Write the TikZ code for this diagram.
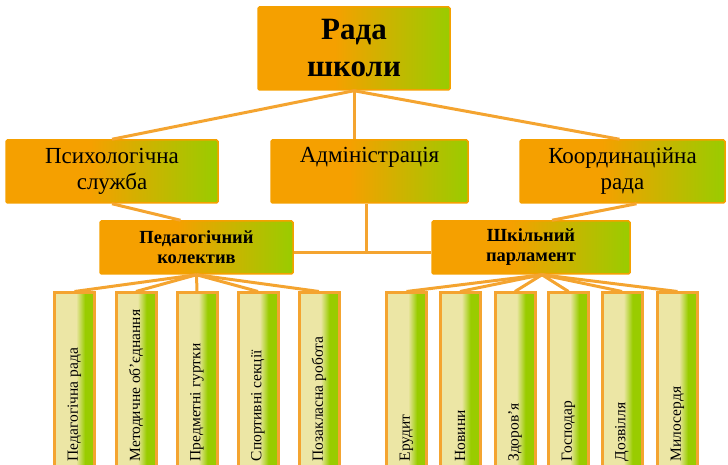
\documentclass[tikz,border=0pt]{standalone}
\usepackage{fontspec}
\setmainfont{Liberation Serif}
\usepackage{xcolor}

\definecolor{boxorange}{RGB}{245,160,0}
\definecolor{boxgreen}{RGB}{153,204,0}
\definecolor{lineorange}{RGB}{244,164,48}
\definecolor{barcream}{RGB}{236,230,165}

\pgfdeclarehorizontalshading{boxshade}{100bp}{color(0bp)=(boxorange); color(45bp)=(boxorange); color(75bp)=(boxgreen); color(100bp)=(boxgreen)}
\pgfdeclarehorizontalshading{barshade}{100bp}{color(0bp)=(barcream); color(52bp)=(barcream); color(63bp)=(boxgreen); color(100bp)=(boxgreen)}

\begin{document}
\begin{tikzpicture}[x=1pt, y=1pt,
  box/.style={draw=boxorange, line width=1.5pt, rounded corners=1.5pt, shading=boxshade, rectangle, align=center, inner sep=0pt, text=black},
  bar/.style={draw=lineorange, line width=3pt, shading=barshade, rectangle, minimum width=40pt, minimum height=180pt, inner sep=0pt},
  bartext/.style={rotate=90, anchor=west, inner sep=0pt, text=black, font=\fontsize{15.5}{18}\selectfont},
  link/.style={draw=lineorange, line width=3pt}]

\useasboundingbox (0,0) rectangle (728,465);
\clip (0,0) rectangle (728,465);

% Top box
\node[box, minimum width=192pt, minimum height=83pt, font=\bfseries\fontsize{31}{37}\selectfont] (rada) at (354,416.5) {Рада\\школи};

% Second row
\node[box, minimum width=212pt, minimum height=63pt, font=\fontsize{23}{26}\selectfont] (psych) at (112,293.5) {Психологічна\\служба};
\node[box, minimum width=197pt, minimum height=63pt, font=\fontsize{23}{26}\selectfont] (admin) at (369.5,293.5) {Адміністрація\\\strut};
\node[box, minimum width=205pt, minimum height=63pt, font=\fontsize{23}{26}\selectfont] (coord) at (622.5,293.5) {Координаційна\\рада};

% Third row
\node[box, minimum width=193pt, minimum height=53pt, font=\bfseries\fontsize{18.5}{20}\selectfont] (ped) at (196.5,217.5) {Педагогічний\\колектив};
\node[box, minimum width=198pt, minimum height=53pt, font=\bfseries\fontsize{18.5}{20}\selectfont] (parl) at (531,217.5) {Шкільний\\парламент};

% Bars under the teachers
\node[bar] (ped1) at (74.5,82) {};
\node[bar] (ped2) at (136,82) {};
\node[bar] (ped3) at (197,82) {};
\node[bar] (ped4) at (258,82) {};
\node[bar] (ped5) at (319,82) {};

% Bars under the parliament
\node[bar] (parl1) at (406.5,82) {};
\node[bar] (parl2) at (460,82) {};
\node[bar] (parl3) at (515,82) {};
\node[bar] (parl4) at (568.5,82) {};
\node[bar] (parl5) at (622,82) {};
\node[bar] (parl6) at (677.5,82) {};

% Vertical labels
\node[bartext] at ([yshift=13pt]ped1.south) {Педагогічна рада};
\node[bartext] at ([yshift=13pt]ped2.south) {Методичне об’єднання};
\node[bartext] at ([yshift=13pt]ped3.south) {Предметні гуртки};
\node[bartext] at ([yshift=13pt]ped4.south) {Спортивні секції};
\node[bartext] at ([yshift=13pt]ped5.south) {Позакласна робота};
\node[bartext] at ([yshift=13pt]parl1.south) {Ерудит};
\node[bartext] at ([yshift=13pt]parl2.south) {Новини};
\node[bartext] at ([yshift=13pt]parl3.south) {Здоров’я};
\node[bartext] at ([yshift=13pt]parl4.south) {Господар};
\node[bartext] at ([yshift=13pt]parl5.south) {Дозвілля};
\node[bartext] at ([yshift=13pt]parl6.south) {Милосердя};

% Lines from the top box
\draw[link] (rada.south) -- (psych.north);
\draw[link] (rada.south) -- (rada.south |- admin.north);
\draw[link] (rada.south) -- ([xshift=-3pt]coord.north);

% Administration joins both collectives
\coordinate (join) at (admin.south |- 0,212);
\draw[link] ([xshift=-3pt]admin.south) -- ([xshift=-3pt]join);
\draw[link] (ped.east |- join) -- (parl.west |- join);
\draw[link] (psych.south) -- ([xshift=-16pt]ped.north);
\draw[link] ([xshift=14pt]coord.south) -- ([xshift=21pt]parl.north);

% Fans to the bars
\draw[link] (ped.south) -- (ped1.north);
\draw[link] (ped.south) -- (ped2.north);
\draw[link] (ped.south) -- (ped3.north);
\draw[link] (ped.south) -- (ped4.north);
\draw[link] (ped.south) -- (ped5.north);
\draw[link] ([xshift=11pt]parl.south) -- (parl1.north);
\draw[link] ([xshift=11pt]parl.south) -- (parl2.north);
\draw[link] ([xshift=11pt]parl.south) -- (parl3.north);
\draw[link] ([xshift=11pt]parl.south) -- (parl4.north);
\draw[link] ([xshift=11pt]parl.south) -- (parl5.north);
\draw[link] ([xshift=11pt]parl.south) -- (parl6.north);

\end{tikzpicture}
\end{document}
